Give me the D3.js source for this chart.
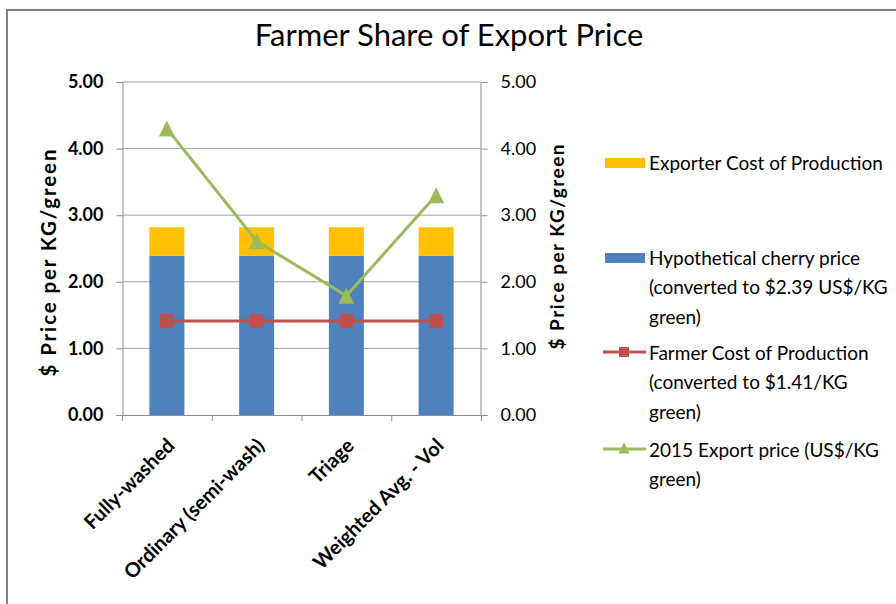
<!DOCTYPE html>
<html>
<head>
<meta charset="utf-8">
<script src="https://cdn.jsdelivr.net/npm/d3@7"></script>
<style>
  html, body { margin: 0; padding: 0; background: #fff; }
  svg { display: block; }
  text { font-family: "Lato", "Open Sans", "DejaVu Sans", sans-serif; fill: #000; }
</style>
</head>
<body>
<svg id="chart" width="896" height="604"></svg>
<script>
// ---- data ----
const categories = ["Fully-washed", "Ordinary (semi-wash)", "Triage", "Weighted Avg. - Vol"];
const cherryPrice = [2.39, 2.39, 2.39, 2.39];          // blue stacked bar
const exporterCost = [0.43, 0.43, 0.43, 0.43];         // yellow stacked bar on top
const farmerCost = [1.41, 1.41, 1.41, 1.41];           // red line
const exportPrice = [4.30, 2.61, 1.79, 3.30];          // green line (secondary axis)
const yTicks = [0, 1, 2, 3, 4, 5];
const titleText = "Farmer Share of Export Price";
const axisTitle = "$ Price per KG/green";
const legendExporter = ["Exporter Cost of Production"];
const legendCherry = ["Hypothetical cherry price", "(converted to $2.39 US$/KG", "green)"];
const legendFarmer = ["Farmer Cost of Production", "(converted to $1.41/KG", "green)"];
const legendExport = ["2015 Export price (US$/KG", "green)"];

// ---- colours ----
const C_BLUE = "#4F81BD", C_YELLOW = "#FFC000", C_RED = "#C0504D", C_GREEN = "#9BBB59";
const C_GRID = "#a0a0a0", C_AXIS = "#8c8c8c";

const svg = d3.select("#chart");

// outer frame
svg.append("path")
  .attr("d", "M7,604 L7,10 L896,10")
  .attr("fill", "none").attr("stroke", "#808080").attr("stroke-width", 2);

// scales
const x = d3.scaleBand().domain(categories).range([122, 481])
  .paddingInner(0.61).paddingOuter(0.305);
const step = x.step();
const y = d3.scaleLinear().domain([0, 5]).range([415, 82]);
const y2 = d3.scaleLinear().domain([0, 5]).range([415, 82]);

// gridlines
svg.append("g").selectAll("line").data(yTicks.filter(d => d > 0)).join("line")
  .attr("x1", 122).attr("x2", 481)
  .attr("y1", d => y(d)).attr("y2", d => y(d))
  .attr("stroke", C_GRID).attr("stroke-width", 1);

// bars
const stackData = categories.map((c, i) => ({ c, blue: cherryPrice[i], yellow: exporterCost[i] }));
const stack = d3.stack().keys(["blue", "yellow"])(stackData);
const barColors = { blue: C_BLUE, yellow: C_YELLOW };
svg.append("g").selectAll("g").data(stack).join("g")
  .attr("fill", d => barColors[d.key])
  .selectAll("rect").data(d => d).join("rect")
  .attr("x", d => x(d.data.c))
  .attr("width", x.bandwidth())
  .attr("y", d => y(d[1]))
  .attr("height", d => y(d[0]) - y(d[1]));

// axes (left)
const leftAxis = d3.axisLeft(y).tickValues(yTicks).tickSize(6).tickPadding(13)
  .tickFormat(d3.format(".2f"));
const gL = svg.append("g").attr("transform", "translate(122.5,0)").call(leftAxis);
gL.select(".domain").attr("stroke", C_AXIS).attr("d", "M-6,82.5H0.5V415.5H-6");
gL.selectAll(".tick line").attr("stroke", C_AXIS);
gL.selectAll(".tick text").attr("font-size", 18).attr("font-weight", "bold")
  .style("font-family", "Lato, 'Open Sans', sans-serif").attr("fill", "#000");

// axes (right)
const rightAxis = d3.axisRight(y2).tickValues(yTicks).tickSize(6).tickPadding(13)
  .tickFormat(d3.format(".2f"));
const gR = svg.append("g").attr("transform", "translate(481.5,0)").call(rightAxis);
gR.select(".domain").attr("stroke", C_AXIS).attr("d", "M6,82.5H-0.5V415.5H6");
gR.selectAll(".tick line").attr("stroke", C_AXIS);
gR.selectAll(".tick text").attr("font-size", 18)
  .style("font-family", "Lato, 'Open Sans', sans-serif").attr("fill", "#000");

// bottom axis line and category boundary ticks
svg.append("line").attr("x1", 122).attr("x2", 482).attr("y1", 415.5).attr("y2", 415.5)
  .attr("stroke", C_AXIS);
svg.append("g").selectAll("line").data(d3.range(categories.length + 1)).join("line")
  .attr("x1", i => 122.5 + i * step).attr("x2", i => 122.5 + i * step)
  .attr("y1", 415).attr("y2", 421).attr("stroke", C_AXIS);

// category labels
svg.append("g").selectAll("text").data(categories).join("text")
  .attr("transform", d => `translate(${x(d) + x.bandwidth() / 2 + 9},447) rotate(-45)`)
  .attr("text-anchor", "end")
  .attr("font-size", 20).attr("font-weight", "bold")
  .text(d => d);

// lines
const cx = d => x(d) + x.bandwidth() / 2;
const lineGen = (vals, sc) => d3.line().x((d, i) => cx(categories[i])).y(d => sc(d))(vals);

svg.append("path").attr("d", lineGen(farmerCost, y))
  .attr("fill", "none").attr("stroke", C_RED).attr("stroke-width", 3);
svg.append("g").selectAll("rect").data(farmerCost).join("rect")
  .attr("x", (d, i) => cx(categories[i]) - 7).attr("y", d => y(d) - 7)
  .attr("width", 14).attr("height", 14).attr("fill", C_RED);

svg.append("path").attr("d", lineGen(exportPrice, y2))
  .attr("fill", "none").attr("stroke", C_GREEN).attr("stroke-width", 3);
const triPath = (px, py, s) => `M${px},${py - s / 2}L${px + s / 2},${py + s / 2}L${px - s / 2},${py + s / 2}Z`;
svg.append("g").selectAll("path").data(exportPrice).join("path")
  .attr("d", (d, i) => triPath(cx(categories[i]), y2(d), 16))
  .attr("fill", C_GREEN);

// title
svg.append("text").attr("x", 449).attr("y", 46).attr("text-anchor", "middle")
  .attr("font-size", 31).text(titleText);

// axis titles
svg.append("text").attr("transform", "translate(56,263) rotate(-90)")
  .attr("text-anchor", "middle").attr("font-size", 20.5).attr("font-weight", "bold")
  .attr("textLength", 227).attr("lengthAdjust", "spacing")
  .text(axisTitle);
svg.append("text").attr("transform", "translate(564,247) rotate(-90)")
  .attr("text-anchor", "middle").attr("font-size", 19).attr("font-weight", "bold")
  .attr("textLength", 205).attr("lengthAdjust", "spacing")
  .text(axisTitle);

// legend
const LH = 29.5;
const legend = svg.append("g");
function legendText(lines, y0) {
  legend.append("g").selectAll("text").data(lines).join("text")
    .attr("x", 649).attr("y", (d, i) => y0 + i * LH)
    .attr("dy", "0.35em").attr("font-size", 19).text(d => d);
}
legend.append("rect").attr("x", 605).attr("y", 158).attr("width", 40).attr("height", 10).attr("fill", C_YELLOW);
legendText(legendExporter, 163);
legend.append("rect").attr("x", 605).attr("y", 253).attr("width", 40).attr("height", 10).attr("fill", C_BLUE);
legendText(legendCherry, 258);
legend.append("line").attr("x1", 603).attr("x2", 646).attr("y1", 352).attr("y2", 352)
  .attr("stroke", C_RED).attr("stroke-width", 3);
legend.append("rect").attr("x", 619).attr("y", 347).attr("width", 10).attr("height", 10).attr("fill", C_RED);
legendText(legendFarmer, 353);
legend.append("line").attr("x1", 603).attr("x2", 646).attr("y1", 449).attr("y2", 449)
  .attr("stroke", C_GREEN).attr("stroke-width", 3);
legend.append("path").attr("d", triPath(624, 448, 11)).attr("fill", C_GREEN);
legendText(legendExport, 450);
</script>
</body>
</html>
